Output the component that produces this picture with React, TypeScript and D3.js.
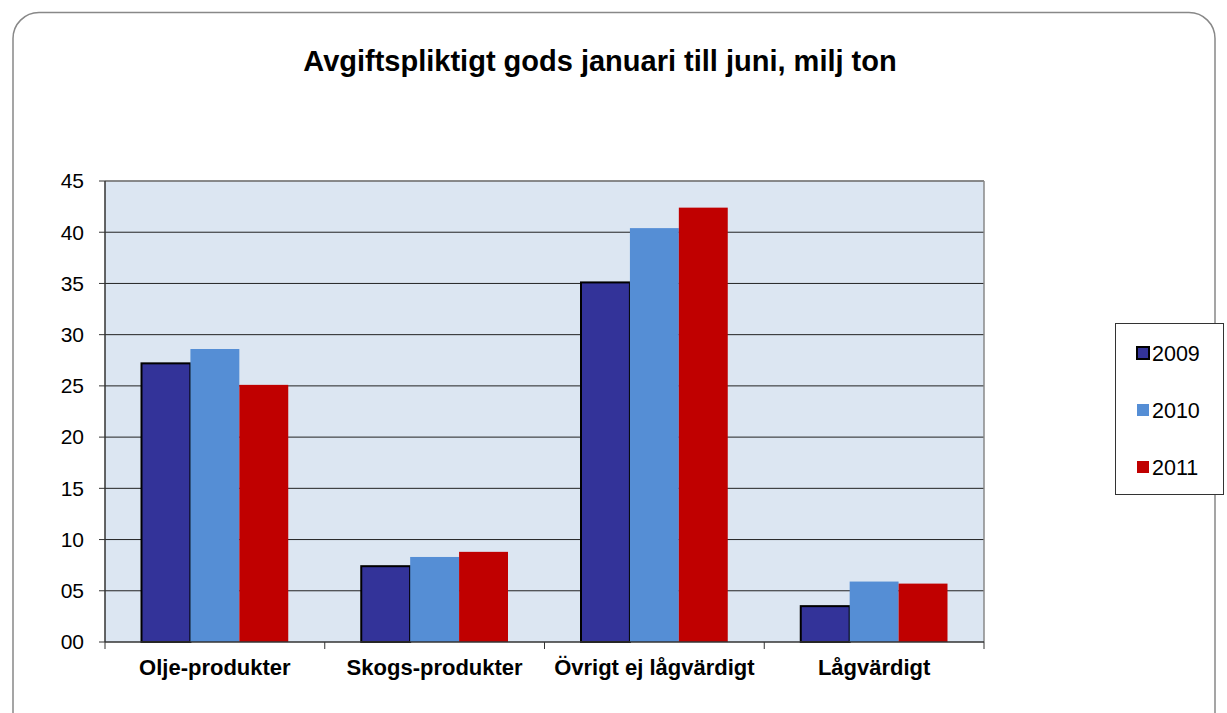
import React from 'react';
import * as d3 from 'd3';

const categories = ['Olje-produkter', 'Skogs-produkter', 'Övrigt ej lågvärdigt', 'Lågvärdigt'];
const seriesNames = ['2009', '2010', '2011'];
const values2009 = [27.2, 7.4, 35.1, 3.5];
const values2010 = [28.6, 8.3, 40.4, 5.9];
const values2011 = [25.1, 8.8, 42.4, 5.7];
const yTicks = [0, 5, 10, 15, 20, 25, 30, 35, 40, 45];
const colors = ['#333399', '#558ED5', '#C00000'];

const W = 1227;
const H = 713;

const App = () => {
  const margin = { left: 105, right: 243, top: 181, bottom: 71 };
  const plotW = W - margin.left - margin.right;
  const plotH = H - margin.top - margin.bottom;
  const series = [values2009, values2010, values2011];

  const x = d3.scaleBand().domain(categories).range([0, plotW]).paddingInner(0).paddingOuter(0);
  const inner = d3
    .scaleBand()
    .domain(seriesNames)
    .range([36.5, x.bandwidth() - 36.5])
    .padding(0);
  const y = d3.scaleLinear().domain([0, 45]).range([plotH, 0]);
  const fmt = (d: number) => d3.format('02d')(d);
  const font = "'Liberation Sans', Arial, sans-serif";

  return (
    <svg
      width={W}
      height={H}
      style={{ position: 'absolute', left: 0, top: 0, background: 'white', fontFamily: font }}
    >
      {/* outer frame */}
      <rect x={13} y={12.5} width={1202} height={730} rx={26} ry={26} fill="white" stroke="#888" strokeWidth={1.5} />

      <text x={600} y={71} textAnchor="middle" fontSize={29} fontWeight="bold" fill="#000">
        Avgiftspliktigt gods januari till juni, milj ton
      </text>

      <g transform={`translate(${margin.left},${margin.top})`}>
        <rect x={0} y={0} width={plotW} height={plotH} fill="#DCE6F2" />
        {yTicks.slice(1).map((t) => (
          <line key={t} x1={0} x2={plotW} y1={y(t)} y2={y(t)} stroke="#222" strokeWidth={1} />
        ))}
        <line x1={plotW} x2={plotW} y1={0} y2={plotH} stroke="#888" strokeWidth={1.5} />
        <line x1={0} x2={plotW} y1={0} y2={0} stroke="#888" strokeWidth={1.5} />

        {categories.map((c, i) => (
          <g key={c} transform={`translate(${x(c)},0)`}>
            {series.map((vals, s) => (
              <rect
                key={s}
                x={inner(seriesNames[s])}
                y={y(vals[i])}
                width={inner.bandwidth()}
                height={plotH - y(vals[i])}
                fill={colors[s]}
                stroke={s === 0 ? '#000' : 'none'}
                strokeWidth={s === 0 ? 2 : 0}
              />
            ))}
          </g>
        ))}

        {/* y axis */}
        <line x1={0} x2={0} y1={0} y2={plotH} stroke="#333" strokeWidth={1.5} />
        {yTicks.map((t) => (
          <g key={t}>
            <line x1={-6} x2={0} y1={y(t)} y2={y(t)} stroke="#333" strokeWidth={1} />
            <text x={-21} y={y(t)} dy="0.35em" textAnchor="end" fontSize={21} fill="#000">
              {fmt(t)}
            </text>
          </g>
        ))}

        {/* x axis */}
        <line x1={0} x2={plotW} y1={plotH} y2={plotH} stroke="#333" strokeWidth={1.5} />
        {[0, ...categories.map((c) => (x(c) as number) + x.bandwidth())].map((px, i) => (
          <line key={i} x1={px} x2={px} y1={plotH} y2={plotH + 7} stroke="#333" strokeWidth={1} />
        ))}
        {categories.map((c) => (
          <text
            key={c}
            x={(x(c) as number) + x.bandwidth() / 2}
            y={plotH + 33}
            textAnchor="middle"
            fontSize={22}
            fontWeight="bold"
            fill="#000"
          >
            {c}
          </text>
        ))}
      </g>

      {/* legend */}
      <g>
        <rect x={1115.5} y={323.5} width={108} height={171} fill="white" stroke="#333" strokeWidth={1} />
        {seriesNames.map((n, i) => (
          <g key={n} transform={`translate(1137,${353 + i * 57})`}>
            <rect
              x={0}
              y={-6}
              width={12}
              height={12}
              fill={colors[i]}
              stroke={i === 0 ? '#000' : 'none'}
              strokeWidth={i === 0 ? 2 : 0}
            />
            <text x={15} y={0} dy="0.35em" fontSize={21.5} fill="#000">
              {n}
            </text>
          </g>
        ))}
      </g>
    </svg>
  );
};

export default App;
